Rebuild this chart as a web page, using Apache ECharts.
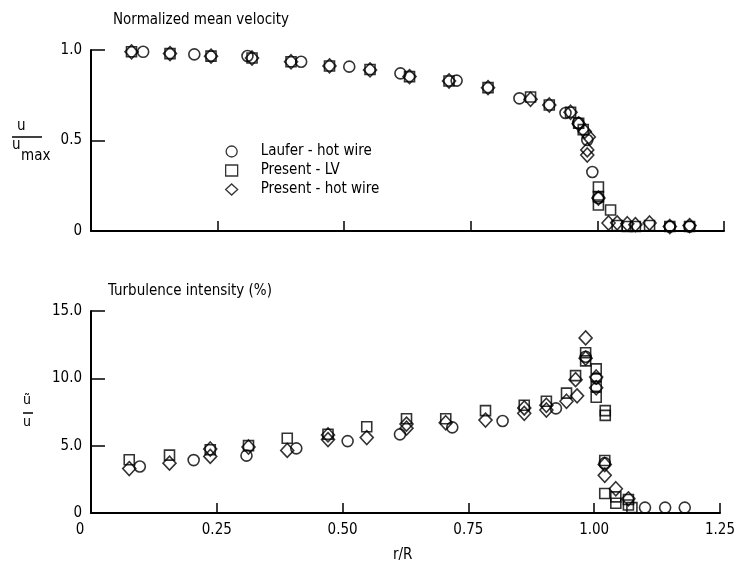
<!DOCTYPE html>
<html><head><meta charset="utf-8">
<script src="https://cdn.jsdelivr.net/npm/echarts@6/dist/echarts.min.js"></script>
<style>html,body{margin:0;padding:0;background:#fff}#c{width:738px;height:566px}</style>
</head><body><div id="c"></div>
<script>
// ---- data (r/R, value) ----
const xTicks = [0, 0.25, 0.5, 0.75, 1.0, 1.25];
const seriesNames = ['Laufer - hot wire', 'Present - LV', 'Present - hot wire'];

const lauferTop = [[0.103,0.99],[0.204,0.976],[0.309,0.967],[0.415,0.935],[0.51,0.908],[0.611,0.871],[0.722,0.831],[0.846,0.733],[0.937,0.652],[0.962,0.597],[0.98,0.503],[0.99,0.326],[1.002,0.182],[1.143,0.025],[1.182,0.025]];
const lvTop = [[0.080,0.99],[0.156,0.98],[0.237,0.966],[0.318,0.956],[0.395,0.935],[0.471,0.912],[0.551,0.892],[0.629,0.853],[0.707,0.829],[0.784,0.792],[0.868,0.74],[0.905,0.696],[0.947,0.656],[0.963,0.595],[0.972,0.56],[1.002,0.243],[1.002,0.19],[1.002,0.144],[1.026,0.116],[1.039,0.03],[1.059,0.025],[1.075,0.025],[1.103,0.03],[1.143,0.025],[1.182,0.025]];
const hwTop = [[0.080,0.99],[0.156,0.98],[0.237,0.966],[0.318,0.956],[0.395,0.935],[0.471,0.912],[0.551,0.89],[0.629,0.853],[0.707,0.829],[0.784,0.792],[0.868,0.728],[0.905,0.696],[0.947,0.656],[0.963,0.592],[0.975,0.55],[0.983,0.52],[0.98,0.448],[0.98,0.42],[1.002,0.182],[1.022,0.044],[1.039,0.045],[1.059,0.04],[1.075,0.035],[1.103,0.044],[1.143,0.025],[1.182,0.03]];

const lauferBot = [[0.097,3.45],[0.204,3.93],[0.309,4.26],[0.408,4.8],[0.51,5.34],[0.614,5.84],[0.718,6.36],[0.818,6.83],[0.924,7.77],[0.983,11.6],[1.004,10.0],[1.021,3.7],[1.101,0.4],[1.141,0.4],[1.18,0.4]];
const lvBot = [[0.076,3.95],[0.156,4.3],[0.237,4.7],[0.313,5.0],[0.39,5.55],[0.471,5.85],[0.548,6.4],[0.627,7.0],[0.705,7.0],[0.784,7.6],[0.861,8.0],[0.905,8.3],[0.945,8.9],[0.963,10.2],[0.983,11.9],[0.983,11.3],[1.004,10.7],[1.004,9.4],[1.004,8.6],[1.022,7.6],[1.022,7.25],[1.021,3.9],[1.021,1.45],[1.043,1.2],[1.043,0.72],[1.068,1.0],[1.068,0.59],[1.075,0.4]];
const hwBot = [[0.076,3.3],[0.156,3.7],[0.237,4.75],[0.237,4.2],[0.313,4.9],[0.39,4.65],[0.471,5.45],[0.471,5.8],[0.548,5.6],[0.627,6.3],[0.627,6.6],[0.705,6.7],[0.784,6.9],[0.861,7.4],[0.861,7.8],[0.905,7.65],[0.905,8.0],[0.945,8.3],[0.966,8.7],[0.963,9.9],[0.983,13.0],[0.983,11.5],[1.004,10.1],[1.004,9.3],[1.021,3.6],[1.021,2.8],[1.043,1.8],[1.068,1.05]];

// ---- chart ----
const FONT = '"DejaVu Sans Condensed","Liberation Sans Narrow","Liberation Sans",sans-serif';
const chart = echarts.init(document.getElementById('c'), null, {renderer:'canvas'});
const axisLine = {show:true, onZero:false, lineStyle:{color:'#000', width:2}};
function xAxis(grid, labels){
  return {type:'value', gridIndex:grid, min:0, max:1.25, interval:0.25,
    axisLine:axisLine, splitLine:{show:false},
    axisTick:{show:true, inside:true, length:10, lineStyle:{color:'#000', width:1.5}},
    axisLabel:{show:labels, color:'#000', fontFamily:FONT, fontSize:15, margin:10,
      formatter:v=> v===0 ? '{z|0}' : v.toFixed(2),
      rich:{z:{fontFamily:FONT, fontSize:15, color:'#000', padding:[0,22,0,0]}}}};
}
function yAxis(grid, max, interval, dec){
  return {type:'value', gridIndex:grid, min:0, max:max, interval:interval,
    axisLine:axisLine, splitLine:{show:false},
    axisTick:{show:true, inside:true, length:14, lineStyle:{color:'#000', width:1.5}},
    axisLabel:{color:'#000', fontFamily:FONT, fontSize:15, margin:9,
      formatter:v=> v===0 ? '0' : v.toFixed(dec)}};
}
const mk = {circle:11, rect:10, diamond:[13,14]};
function sc(name, sym, data, idx){
  return {type:'scatter', name:name, xAxisIndex:idx, yAxisIndex:idx, data:data,
    symbol:sym, symbolSize:mk[sym], silent:true, animation:false,
    itemStyle:{color:'rgba(255,255,255,0)', borderColor:'#000', borderWidth:1.6}};
}
chart.setOption({
  backgroundColor:'#fff',
  animation:false,
  grid:[{left:91, top:50, width:633, height:181},{left:91, top:311, width:633, height:202}],
  xAxis:[xAxis(0,false), xAxis(1,true)],
  yAxis:[yAxis(0,1,0.5,1), yAxis(1,15,5,1)],
  legend:{orient:'vertical', left:220, top:139, itemGap:4, itemWidth:12, itemHeight:11,
    data:[{name:seriesNames[0], icon:'circle'},{name:seriesNames[1], icon:'rect'},{name:seriesNames[2], icon:'diamond'}],
    textStyle:{fontFamily:FONT, fontSize:15, color:'#000', padding:[0,0,0,18]},
    itemStyle:{color:'rgba(255,255,255,0)', borderColor:'#000', borderWidth:1.3},
    selectedMode:false},
  series:[
    sc(seriesNames[0],'circle',lauferTop,0), sc(seriesNames[1],'rect',lvTop,0), sc(seriesNames[2],'diamond',hwTop,0),
    sc(seriesNames[0],'circle',lauferBot,1), sc(seriesNames[1],'rect',lvBot,1), sc(seriesNames[2],'diamond',hwBot,1)
  ],
  graphic:[
    {type:'text', left:113, top:13, style:{text:'Normalized mean velocity', font:'15px '+FONT, fill:'#000'}},
    {type:'text', left:108, top:284, style:{text:'Turbulence intensity (%)', font:'15px '+FONT, fill:'#000'}},
    {type:'text', left:17, top:119, style:{text:'u', font:'15px '+FONT, fill:'#000'}},
    {type:'line', shape:{x1:12, y1:137, x2:42, y2:137}, style:{stroke:'#000', lineWidth:1.5}},
    {type:'text', left:12, top:138, style:{text:'u', font:'15px '+FONT, fill:'#000'}},
    {type:'text', left:21, top:149, style:{text:'max', font:'15px '+FONT, fill:'#000'}},
    {type:'text', left:23, top:393, style:{text:'ũ', font:'14px '+FONT, fill:'#000'}},
    {type:'line', shape:{x1:23, y1:413, x2:33, y2:413}, style:{stroke:'#000', lineWidth:1.5}},
    {type:'text', left:23, top:415, style:{text:'u', font:'14px '+FONT, fill:'#000'}},
    {type:'text', left:393, top:548, style:{text:'r/R', font:'15px '+FONT, fill:'#000'}}
  ]
});
</script></body></html>
